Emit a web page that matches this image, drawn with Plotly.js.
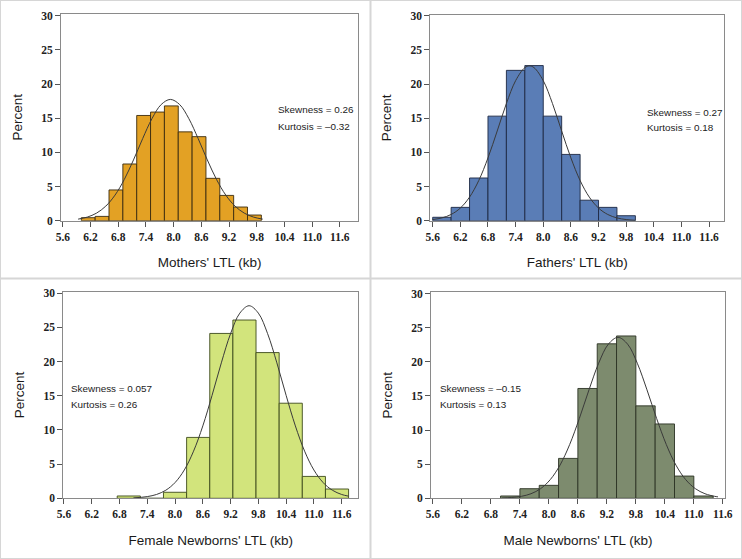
<!DOCTYPE html>
<html><head><meta charset="utf-8">
<script src="https://cdn.plot.ly/plotly-3.0.1.min.js"></script>
<style>html,body{margin:0;padding:0;background:#fff}#chart{width:742px;height:559px}</style>
</head><body><div id="chart"></div>
<script>
// ---- tick labels ----
const xTickVals = [5.6, 6.2, 6.8, 7.4, 8.0, 8.6, 9.2, 9.8, 10.4, 11.0, 11.6];
const xTickText = ['5.6', '6.2', '6.8', '7.4', '8.0', '8.6', '9.2', '9.8', '10.4', '11.0', '11.6'];
const yTickVals = [0, 5, 10, 15, 20, 25, 30];

// ---- Mothers ----
const mothersBinCenters = [6.15, 6.45, 6.75, 7.05, 7.35, 7.65, 7.95, 8.25, 8.55, 8.85, 9.15, 9.45, 9.75];
const mothersPercent = [0.44, 0.63, 4.5, 8.3, 15.4, 15.9, 16.8, 13.0, 12.3, 6.2, 3.7, 2.0, 0.83];
const mothersCurveX = [5.93, 6.13, 6.33, 6.53, 6.73, 6.93, 7.13, 7.33, 7.53, 7.73, 7.93, 8.13, 8.33, 8.53, 8.73, 8.93, 9.13, 9.33, 9.53, 9.73, 9.93];
const mothersCurveY = [0.23, 0.53, 1.11, 2.13, 3.74, 6.02, 8.89, 12.03, 14.93, 17.00, 17.75, 17.00, 14.93, 12.03, 8.89, 6.02, 3.74, 2.13, 1.11, 0.53, 0.23];

// ---- Fathers ----
const fathersBinCenters = [5.8, 6.2, 6.6, 7.0, 7.4, 7.8, 8.2, 8.6, 9.0, 9.4, 9.8];
const fathersPercent = [0.5, 1.95, 6.25, 15.3, 22.0, 22.7, 15.3, 9.7, 3.0, 1.95, 0.73];
const fathersCurveX = [5.6, 5.8, 6.0, 6.2, 6.4, 6.6, 6.8, 7.0, 7.2, 7.4, 7.6, 7.7, 7.8, 8.0, 8.2, 8.4, 8.6, 8.8, 9.0, 9.2, 9.4, 9.6, 9.8, 10.0];
const fathersCurveY = [0.17, 0.41, 0.91, 1.85, 3.45, 5.88, 9.19, 13.12, 17.15, 20.49, 22.40, 22.65, 22.40, 20.49, 17.15, 13.12, 9.19, 5.88, 3.45, 1.85, 0.91, 0.41, 0.17, 0.06];

// ---- Female newborns ----
const femaleBinCenters = [7.0, 7.5, 8.0, 8.5, 9.0, 9.5, 10.0, 10.5, 11.0, 11.5];
const femalePercent = [0.34, 0, 0.88, 8.9, 24.1, 26.06, 21.3, 13.9, 3.2, 1.36];
const femaleCurveX = [7.1, 7.4, 7.6, 7.8, 8.0, 8.2, 8.4, 8.6, 8.8, 9.0, 9.2, 9.4, 9.6, 9.8, 10.0, 10.2, 10.4, 10.6, 10.8, 11.0, 11.2, 11.4, 11.6, 11.75];
const femaleCurveY = [0.06, 0.25, 0.56, 1.18, 2.30, 4.14, 6.89, 10.58, 15.05, 19.80, 24.07, 27.07, 28.15, 27.07, 24.07, 19.80, 15.05, 10.58, 6.89, 4.14, 2.30, 1.18, 0.56, 0.31];

// ---- Male newborns ----
const maleBinCenters = [7.2, 7.6, 8.0, 8.4, 8.8, 9.2, 9.6, 10.0, 10.4, 10.8, 11.2];
const malePercent = [0.34, 1.41, 1.9, 5.85, 16.1, 22.65, 23.8, 13.55, 10.9, 3.26, 0.34];
const maleCurveX = [7.03, 7.23, 7.43, 7.63, 7.83, 8.03, 8.23, 8.43, 8.63, 8.83, 9.03, 9.23, 9.43, 9.63, 9.83, 10.03, 10.23, 10.43, 10.63, 10.83, 11.03, 11.23, 11.43, 11.5];
const maleCurveY = [0.04, 0.12, 0.29, 0.67, 1.42, 2.75, 4.86, 7.88, 11.70, 15.90, 19.80, 22.59, 23.6, 22.59, 19.80, 15.90, 11.70, 7.88, 4.86, 2.75, 1.42, 0.67, 0.29, 0.21];

// ---- text ----
const xTitles = ["Mothers' LTL (kb)", "Fathers' LTL (kb)", "Female Newborns' LTL (kb)", "Male Newborns' LTL (kb)"];
const statsText = [
  ['Skewness = 0.26', 'Kurtosis = \u20130.32'],
  ['Skewness = 0.27', 'Kurtosis = 0.18'],
  ['Skewness = 0.057', 'Kurtosis = 0.26'],
  ['Skewness = \u20130.15', 'Kurtosis = 0.13']
];

// ---- panel geometry / style (pixels) ----
const W = 742, H = 559;
const panels = [
  {bins: mothersBinCenters, pct: mothersPercent, cx: mothersCurveX, cy: mothersCurveY, bw: 0.3,
   fill: '#E3A124', edge: '#3b2b0e', px: [61, 358.3], py: [14, 220.7], xr: [5.56, 12.0], yr: [0, 30.25],
   stats: [276, 110, 126]},
  {bins: fathersBinCenters, pct: fathersPercent, cx: fathersCurveX, cy: fathersCurveY, bw: 0.4,
   fill: '#5A7DB6', edge: '#1d2843', px: [430.3, 724.3], py: [15, 220.7], xr: [5.548, 11.93], yr: [0, 30.1],
   stats: [645, 112.5, 128]},
  {bins: femaleBinCenters, pct: femalePercent, cx: femaleCurveX, cy: femaleCurveY, bw: 0.5,
   fill: '#D2E47C', edge: '#3c4a1b', px: [63.3, 358.3], py: [291.7, 498.3], xr: [5.585, 11.96], yr: [0, 30.2],
   stats: [69, 388.5, 404]},
  {bins: maleBinCenters, pct: malePercent, cx: maleCurveX, cy: maleCurveY, bw: 0.4,
   fill: '#7D8B6E', edge: '#2b3224', px: [431, 725], py: [292.3, 498.3], xr: [5.56, 11.645], yr: [0, 30.2],
   stats: [437.5, 388.3, 404]}
];

const data = [];
const layout = {
  width: W, height: H, margin: {l: 0, r: 0, t: 0, b: 0},
  paper_bgcolor: '#fff', plot_bgcolor: '#fff', showlegend: false, bargap: 0,
  annotations: [], shapes: []
};

panels.forEach((p, i) => {
  const n = i + 1;
  const xa = 'x' + (n === 1 ? '' : n), ya = 'y' + (n === 1 ? '' : n);
  const xk = 'xaxis' + (n === 1 ? '' : n), yk = 'yaxis' + (n === 1 ? '' : n);
  data.push({
    type: 'bar', x: p.bins, y: p.pct, width: p.bw, xaxis: xa, yaxis: ya,
    marker: {color: p.fill, line: {color: p.edge, width: 0.9}}, hoverinfo: 'x+y'
  });
  data.push({
    type: 'scatter', mode: 'lines', x: p.cx, y: p.cy, xaxis: xa, yaxis: ya,
    line: {color: '#3a3a3a', width: 1, shape: 'spline', smoothing: 1}, hoverinfo: 'skip'
  });
  layout[xk] = {
    domain: [p.px[0] / W, p.px[1] / W], range: p.xr, anchor: ya,
    tickmode: 'array', tickvals: xTickVals, ticktext: xTickText,
    ticks: 'outside', ticklen: 5, tickcolor: '#555', tickwidth: 1,
    showline: true, linecolor: '#8a8a8a', linewidth: 1, mirror: true,
    showgrid: false, zeroline: false,
    tickfont: {family: 'Liberation Serif, serif', size: 11.5, color: '#222', weight: 'bold'},
    title: {text: xTitles[i], standoff: 16, font: {family: 'Liberation Sans, Arial, sans-serif', size: 13.5, color: '#1a1a1a'}}
  };
  layout[yk] = {
    domain: [1 - p.py[1] / H, 1 - p.py[0] / H], range: p.yr, anchor: xa,
    tickmode: 'array', tickvals: yTickVals,
    ticks: 'outside', ticklen: 5, tickcolor: '#555', tickwidth: 1,
    showline: true, linecolor: '#8a8a8a', linewidth: 1, mirror: true,
    showgrid: false, zeroline: false,
    tickfont: {family: 'Liberation Serif, serif', size: 11.5, color: '#222', weight: 'bold'},
    title: {text: 'Percent', standoff: 15, font: {family: 'Liberation Sans, Arial, sans-serif', size: 13.5, color: '#1a1a1a'}}
  };
  statsText[i].forEach((t, k) => {
    layout.annotations.push({
      xref: 'paper', yref: 'paper', x: p.stats[0] / W, y: 1 - p.stats[1 + k] / H,
      xanchor: 'left', yanchor: 'middle', showarrow: false, text: t,
      font: {family: 'Liberation Sans, Arial, sans-serif', size: 9.9, color: '#222'}
    });
  });
});

// panel borders
const bc = '#d6d6d6';
layout.shapes.push(
  {type: 'rect', xref: 'paper', yref: 'paper', x0: 0, x1: 1, y0: 0, y1: 1, line: {color: bc, width: 2}},
  {type: 'line', xref: 'paper', yref: 'paper', x0: 370.5 / W, x1: 370.5 / W, y0: 0, y1: 1, line: {color: bc, width: 2}},
  {type: 'line', xref: 'paper', yref: 'paper', x0: 0, x1: 1, y0: 1 - 278.5 / H, y1: 1 - 278.5 / H, line: {color: bc, width: 2}}
);

Plotly.newPlot('chart', data, layout, {displayModeBar: false, staticPlot: true});
</script>
</body></html>
